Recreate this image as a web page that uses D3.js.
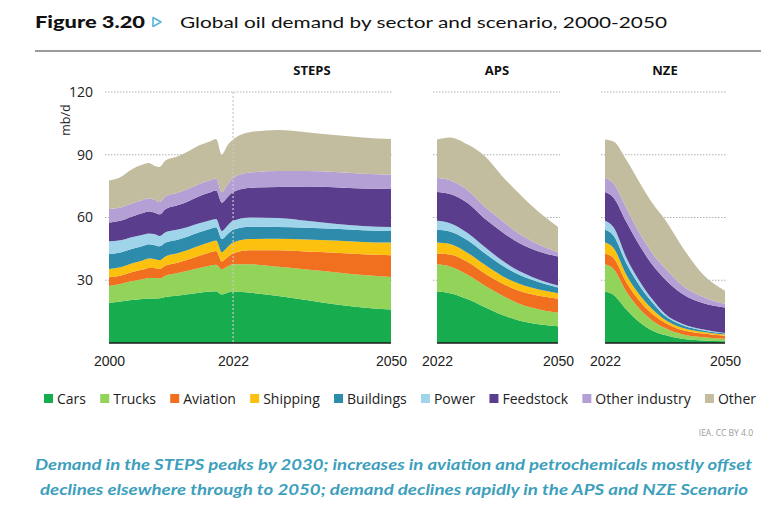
<!DOCTYPE html>
<html><head><meta charset="utf-8">
<script src="https://cdn.jsdelivr.net/npm/d3@7"></script>
<style>
body{margin:0;background:#fff;}
svg{display:block;font-family:"Open Sans",sans-serif;}
</style></head><body>
<svg id="chart" width="768" height="506"></svg>
<script>
// ---------- DATA ----------
const sectors = ["Cars","Trucks","Aviation","Shipping","Buildings","Power","Feedstock","Other industry","Other"];
const sectorColors = ["#17ad4f","#92d35a","#f0701f","#fcc10e","#2d8bab","#9fd4ea","#5a3d8c","#b5a0d6","#c3bd9f"];
const yTicks = [30, 60, 90, 120];

// STEPS (history 2000-2022 + projection to 2050), mb/d
const stepsYears     = [2000,2002,2004,2006,2007,2008,2009,2010,2012,2014,2016,2018,2019,2020,2021,2022,2025,2030,2035,2040,2045,2050];
const stepsCars      = [19.2,19.8,20.5,21.0,21.3,21.3,21.4,22.0,22.6,23.3,24.0,24.6,24.8,23.2,24.0,24.6,24.0,22.5,20.5,18.5,17.0,16.0];
const stepsTrucks    = [8.0,8.4,9.0,9.5,9.8,9.8,9.5,10.2,10.7,11.2,11.8,12.4,12.6,12.0,12.6,13.0,13.6,13.9,14.6,15.3,15.5,15.6];
const stepsAviation  = [4.2,4.0,4.3,4.6,4.8,4.7,4.5,4.8,5.0,5.4,5.9,6.4,6.6,3.8,4.4,5.2,6.7,7.9,8.7,9.4,9.9,10.4];
const stepsShipping  = [4.0,4.0,4.2,4.4,4.5,4.4,4.2,4.4,4.5,4.6,4.8,4.9,5.0,4.4,4.8,5.2,5.4,5.6,5.7,5.8,5.9,6.0];
const stepsBuildings = [7.2,7.1,7.0,6.9,6.8,6.7,6.6,6.6,6.5,6.4,6.4,6.3,6.3,6.3,6.2,6.1,5.9,5.6,5.6,5.6,5.6,5.6];
const stepsPower     = [6.0,5.8,5.6,5.4,5.2,5.2,5.0,5.0,4.9,4.6,4.3,4.1,4.0,3.9,4.1,4.3,4.4,4.3,3.4,2.4,2.0,1.8];
const stepsFeedstock = [9.0,9.3,9.8,10.3,10.5,10.3,10.3,11.0,11.5,12.2,13.0,13.4,13.6,13.5,13.6,13.8,14.2,14.8,16.3,17.5,18.0,18.2];
const stepsOtherInd  = [6.5,6.4,6.3,6.3,6.3,6.1,5.9,6.0,6.0,5.9,5.8,5.8,5.8,5.0,6.0,6.8,7.3,7.6,7.4,7.2,7.0,6.8];
const stepsOther     = [13.6,14.5,16.3,16.9,16.8,16.3,16.8,17.2,17.3,17.9,18.5,18.6,18.8,17.9,18.8,18.3,19.3,19.6,18.6,17.7,17.4,17.1];

// APS
const apsYears     = [2022,2025,2029,2033,2037,2041,2044,2050];
const apsCars      = [24.6,23.8,21.0,17.2,13.5,10.8,9.4,8.0];
const apsTrucks    = [13.0,12.8,11.7,10.3,9.3,8.0,7.5,6.5];
const apsAviation  = [5.2,5.7,6.1,5.9,5.8,6.2,6.4,6.7];
const apsShipping  = [5.2,5.0,4.4,4.1,3.6,3.3,3.1,2.6];
const apsBuildings = [6.1,6.0,6.0,5.5,5.0,4.3,3.8,2.7];
const apsPower     = [4.3,4.0,3.5,3.0,2.4,1.8,1.4,1.0];
const apsFeedstock = [13.8,13.9,14.3,13.5,13.6,13.4,13.4,13.8];
const apsOtherInd  = [6.8,6.6,6.2,5.7,5.4,4.4,3.6,2.0];
const apsOther     = [18.3,20.5,21.8,24.3,21.4,19.3,16.9,12.2];

// NZE
const nzeYears     = [2022,2024,2027,2030,2033,2036,2040,2045,2050];
const nzeCars      = [24.6,23.0,16.0,10.0,6.0,3.8,2.0,1.2,0.8];
const nzeTrucks    = [13.0,12.4,8.5,6.5,4.8,3.4,2.2,1.6,1.2];
const nzeAviation  = [5.2,5.2,4.4,3.8,3.2,2.5,2.0,1.7,1.5];
const nzeShipping  = [5.2,4.8,3.6,2.9,2.2,1.4,1.1,0.8,0.6];
const nzeBuildings = [6.1,5.9,5.5,4.4,3.3,1.9,1.3,0.7,0.5];
const nzePower     = [4.3,4.0,2.8,2.2,1.5,1.0,0.6,0.4,0.2];
const nzeFeedstock = [13.8,14.2,17.0,17.0,16.5,16.5,14.3,12.6,12.2];
const nzeOtherInd  = [6.8,6.8,6.7,6.0,5.5,5.3,4.0,3.0,1.6];
const nzeOther     = [18.3,20.0,23.0,24.2,24.0,23.2,18.5,10.5,6.4];

// ---------- BUILD ----------
function buildTable(years, cols) {
  return years.map((yr, i) => {
    const row = {year: yr};
    sectors.forEach((s, k) => row[s] = cols[k][i]);
    return row;
  });
}
const panels = [
  {name: "STEPS", data: buildTable(stepsYears, [stepsCars,stepsTrucks,stepsAviation,stepsShipping,stepsBuildings,stepsPower,stepsFeedstock,stepsOtherInd,stepsOther]),
   domain: [2000, 2050], range: [109, 391], ticks: [2000, 2022, 2050], marker: 2022, labelX: 312},
  {name: "APS", data: buildTable(apsYears, [apsCars,apsTrucks,apsAviation,apsShipping,apsBuildings,apsPower,apsFeedstock,apsOtherInd,apsOther]),
   domain: [2022, 2050], range: [437, 558], ticks: [2022, 2050], labelX: 497},
  {name: "NZE", data: buildTable(nzeYears, [nzeCars,nzeTrucks,nzeAviation,nzeShipping,nzeBuildings,nzePower,nzeFeedstock,nzeOtherInd,nzeOther]),
   domain: [2022, 2050], range: [605, 725], ticks: [2022, 2050], labelX: 665}
];

const svg = d3.select("#chart");
const color = d3.scaleOrdinal(sectors, sectorColors);
const y = d3.scaleLinear([0, 120], [343, 92]);

// Title
svg.append("text").attr("x", 35).attr("y", 28).attr("font-family", "Lato, sans-serif")
  .attr("font-weight", 900).attr("font-size", 17).attr("fill", "#111")
  .attr("textLength", 110).attr("lengthAdjust", "spacingAndGlyphs").text("Figure 3.20");
svg.append("path").attr("d", "M153,17.5 L161,22 L153,26.5 Z").attr("fill", "#fff")
  .attr("stroke", "#5ab4d6").attr("stroke-width", 1.6).attr("stroke-linejoin", "round");
svg.append("text").attr("x", 180).attr("y", 28).attr("font-family", "Lato, sans-serif")
  .attr("font-size", 16).attr("fill", "#111")
  .attr("textLength", 487).attr("lengthAdjust", "spacingAndGlyphs")
  .text("Global oil demand by sector and scenario, 2000-2050");
svg.append("line").attr("x1", 35).attr("x2", 761).attr("y1", 51).attr("y2", 51)
  .attr("stroke", "#9a9a9a").attr("stroke-width", 2);

// Y axis labels
const yAxis = d3.axisLeft(y).tickValues(yTicks).tickSize(0).tickPadding(0);
const yg = svg.append("g").attr("transform", "translate(93,0)").call(yAxis);
yg.select(".domain").remove();
yg.selectAll("text").attr("font-size", 14).attr("fill", "#222").attr("font-family", "Open Sans, sans-serif");
svg.append("text").attr("transform", "translate(70,120) rotate(-90)").attr("text-anchor", "middle")
  .attr("font-size", 12.5).attr("fill", "#222").text("mb/d");

panels.forEach(p => {
  const x = d3.scaleLinear(p.domain, p.range);
  const g = svg.append("g");
  // gridlines
  g.selectAll("line.grid").data(yTicks).join("line")
    .attr("x1", p.range[0] - 4).attr("x2", p.range[1] + 2)
    .attr("y1", d => y(d)).attr("y2", d => y(d))
    .attr("stroke", "#b0b0b0").attr("stroke-width", 1).attr("stroke-dasharray", "1.5,1.5");
  // areas
  const series = d3.stack().keys(sectors)(p.data);
  const area = d3.area().x(d => x(d.data.year)).y0(d => y(d[0])).y1(d => y(d[1])).curve(d3.curveMonotoneX);
  g.selectAll("path.area").data(series).join("path")
    .attr("fill", d => color(d.key)).attr("d", area);
  // 2022 marker
  if (p.marker) {
    g.append("line").attr("x1", x(p.marker)).attr("x2", x(p.marker)).attr("y1", y(120)).attr("y2", y(0))
      .attr("stroke", "#c9c9c9").attr("stroke-width", 1.2).attr("stroke-dasharray", "2,2");
  }
  // baseline
  g.append("line").attr("x1", p.range[0]).attr("x2", p.range[1]).attr("y1", y(0)).attr("y2", y(0))
    .attr("stroke", "#1d1d1d").attr("stroke-width", 1.6);
  // x axis
  const xAxis = d3.axisBottom(x).tickValues(p.ticks).tickFormat(d3.format("d")).tickSize(0).tickPadding(0);
  const xg = g.append("g").attr("transform", `translate(0,${y(0) + 10})`).call(xAxis);
  xg.select(".domain").remove();
  xg.selectAll("text").attr("font-size", 14).attr("fill", "#222").attr("dy", "0.9em");
  // panel title
  g.append("text").attr("x", p.labelX).attr("y", 75).attr("text-anchor", "middle")
    .attr("font-weight", 700).attr("font-size", 13).attr("fill", "#111").text(p.name);
});

// Legend
const lg = svg.append("g");
const legendX0 = 44, legendX1 = 756, sq = 9, sqGap = 4;
const items = lg.selectAll("g").data(sectors).join("g");
items.append("rect").attr("width", sq).attr("height", sq).attr("y", 394).attr("fill", d => color(d));
items.append("text").attr("x", sq + sqGap).attr("y", 404).attr("font-size", 14).attr("fill", "#222").text(d => d);
const widths = [];
items.each(function() { widths.push(sq + sqGap + d3.select(this).select("text").node().getComputedTextLength()); });
const gap = (legendX1 - legendX0 - d3.sum(widths)) / (sectors.length - 1);
let cx = legendX0;
items.each(function(d, i) { d3.select(this).attr("transform", `translate(${cx},0)`); cx += widths[i] + gap; });

// Source
svg.append("text").attr("x", 753).attr("y", 436).attr("text-anchor", "end")
  .attr("font-size", 8.5).attr("fill", "#9a9a9a").text("IEA. CC BY 4.0");

// Caption
const captionLines = [
  "Demand in the STEPS peaks by 2030; increases in aviation and petrochemicals mostly offset",
  "declines elsewhere through to 2050; demand declines rapidly in the APS and NZE Scenario"
];
const capSpans = [[35, 752], [40, 748]];
svg.selectAll("text.cap").data(captionLines).join("text")
  .attr("x", (d, i) => capSpans[i][0]).attr("y", (d, i) => 470 + i * 25)
  .attr("textLength", (d, i) => capSpans[i][1] - capSpans[i][0]).attr("lengthAdjust", "spacingAndGlyphs")
  .attr("font-family", "Lato, sans-serif").attr("font-style", "italic").attr("font-weight", 700)
  .attr("font-size", 15).attr("fill", "#3d9fbc").text(d => d);
</script>
</body></html>
